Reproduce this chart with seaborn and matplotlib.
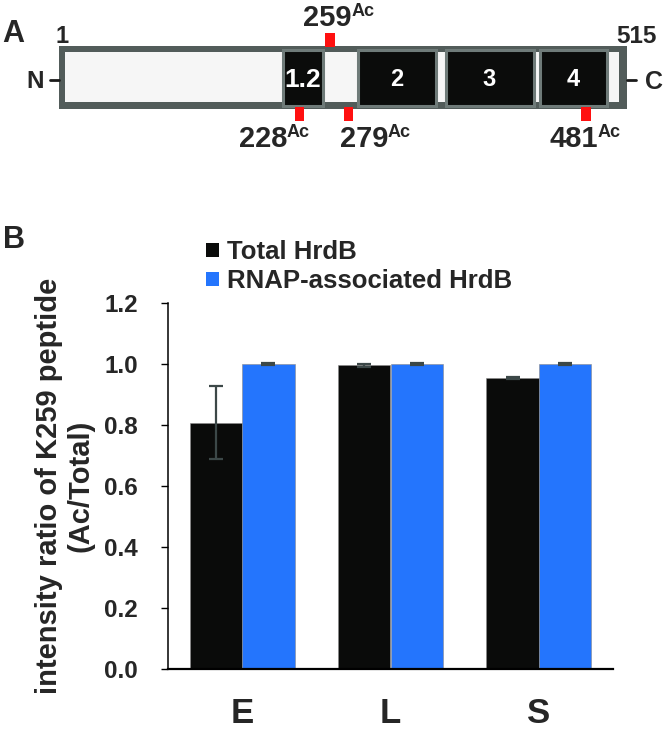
import pandas as pd
import seaborn as sns
import matplotlib.pyplot as plt
from matplotlib.patches import Rectangle, Patch

# ---------- DATA ----------
phases = ["E", "L", "S"]
series = ["Total HrdB", "RNAP-associated HrdB"]
total_ratio = [0.808, 0.996, 0.954]
total_err = [0.120, 0.005, 0.004]
rnap_ratio = [1.0, 1.0, 1.0]
rnap_err = [0.004, 0.004, 0.004]
bar_colors = ["#0a0b0a", "#2475fd"]
yticks = [0.0, 0.2, 0.4, 0.6, 0.8, 1.0, 1.2]

# panel A schematic (positions along the drawn HrdB bar, schematic units)
domain_names = ["1.2", "2", "3", "4"]
domain_start = [281, 356, 444, 538]
domain_end = [324, 437, 535, 608]
ac_sites = ["228", "259", "279", "481"]
ac_pos = [299.5, 330, 348.5, 586]
ac_label_x = [287, 352, 388, 598]
ac_above = [False, True, False, False]
protein_start, protein_end = 59, 627

# ---------- STYLE ----------
sns.set_style("ticks")
plt.rcParams["font.family"] = ["Liberation Sans", "DejaVu Sans"]
plt.rcParams["font.weight"] = "bold"

fig = plt.figure(figsize=(6.64, 7.34), dpi=100)

# ---------- PANEL A ----------
axA = fig.add_axes([0, 1 - 180 / 734, 1, 180 / 734])
axA.set_xlim(0, 664)
axA.set_ylim(180, 0)
axA.axis("off")

axA.add_patch(Rectangle((protein_start, 46), protein_end - protein_start, 63,
                        facecolor="#525c5a", edgecolor="none"))
axA.add_patch(Rectangle((protein_start + 6, 52), protein_end - protein_start - 14, 50,
                        facecolor="#f6f6f6", edgecolor="none"))
for name, s, e in zip(domain_names, domain_start, domain_end):
    axA.add_patch(Rectangle((s + 1.5, 49.5), e - s - 3, 56,
                            facecolor="#0b0c0b", edgecolor="#6f7b79", linewidth=2.2))
    fs = 19 if name == "1.2" else 17
    axA.text((s + e) / 2, 87 if name == "1.2" else 86, name, color="white",
             fontsize=fs, fontweight="bold", ha="center", va="baseline")

for site, x, lx, up in zip(ac_sites, ac_pos, ac_label_x, ac_above):
    y0 = 33 if up else 107
    axA.add_patch(Rectangle((x - 4.8, y0), 9.6, 14, facecolor="#ff1010", edgecolor="none"))
    base = 26 if up else 147
    axA.text(lx, base, site, fontsize=21, fontweight="bold", ha="right", va="baseline")
    axA.text(lx, base - 10, "Ac", fontsize=13, fontweight="bold", ha="left", va="baseline")

axA.text(protein_start + 3, 43, "1", fontsize=17, fontweight="bold", ha="center", va="baseline")
axA.text(protein_end + 9, 43, "515", fontsize=17.5, fontweight="bold", ha="center", va="baseline")
axA.text(35, 88, "N", fontsize=17.5, fontweight="bold", ha="center", va="baseline")
axA.plot([50, protein_start], [80, 80], color="#1a1a1a", lw=2)
axA.text(654, 89, "C", fontsize=18, fontweight="bold", ha="center", va="baseline")
axA.plot([protein_end, 636], [80, 80], color="#1a1a1a", lw=2)
axA.text(2, 42, "A", fontsize=22, fontweight="bold", ha="left", va="baseline")

# ---------- PANEL B ----------
df = pd.DataFrame({
    "phase": phases * 2,
    "series": [series[0]] * 3 + [series[1]] * 3,
    "ratio": total_ratio + rnap_ratio,
})
errs = [total_err, rnap_err]

ax = fig.add_axes([168 / 664, 1 - 669 / 734, 445 / 664, 366 / 734])
sns.barplot(data=df, x="phase", y="ratio", hue="series", order=phases,
            hue_order=series, palette=bar_colors, saturation=1, width=0.71,
            errorbar=None, legend=False, ax=ax, edgecolor="#8a8a8a", linewidth=0.4)

for cont, err in zip(ax.containers, errs):
    xs = [b.get_x() + b.get_width() / 2 for b in cont]
    hs = [b.get_height() for b in cont]
    ax.errorbar(xs, hs, yerr=err, fmt="none", ecolor="#3c4848",
                elinewidth=1.6, capsize=5.2, capthick=1.6)

ax.set_xlim(-0.5, 2.5)
ax.set_ylim(0, 1.2)
ax.set_yticks(yticks)
ax.set_yticklabels([f"{t:.1f}" for t in yticks], fontsize=17.5, fontweight="bold")
ax.tick_params(axis="y", length=5, width=1, pad=16.5, color="black")
ax.tick_params(axis="x", length=0, pad=20, labelsize=25)
for lab in ax.get_xticklabels():
    lab.set_fontweight("bold")
ax.set_xlabel("")
ax.set_ylabel("intensity ratio of K259 peptide\n(Ac/Total)", fontsize=21,
              fontweight="bold", linespacing=1.12)
ax.yaxis.set_label_coords(-0.166, 0.5)
sns.despine(ax=ax)
ax.spines["left"].set_linewidth(1.1)
ax.spines["bottom"].set_linewidth(1.6)
ax.spines["left"].set_color("black")
ax.spines["bottom"].set_color("black")

handles = [Patch(facecolor=c, edgecolor="none") for c in bar_colors]
fig.legend(handles, series, loc="upper left", bbox_to_anchor=(206 / 664, 1 - 240 / 734),
           frameon=False, prop={"weight": "bold", "size": 18.5},
           handlelength=0.5, handleheight=0.5, handletextpad=0.3,
           labelspacing=0.2, borderaxespad=0, borderpad=0)

fig.text(3 / 664, 1 - 248 / 734, "B", fontsize=22, fontweight="bold", ha="left", va="baseline")

fig.savefig("out.png", dpi=100)
